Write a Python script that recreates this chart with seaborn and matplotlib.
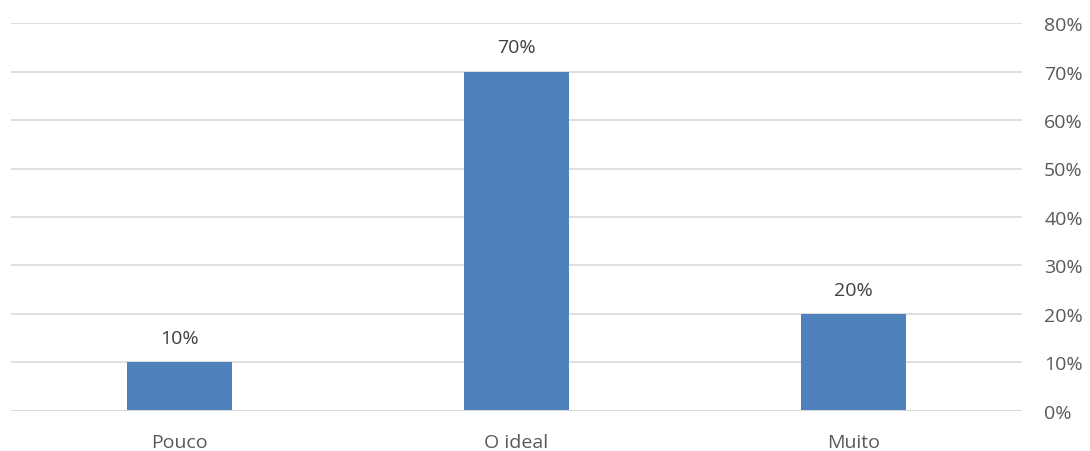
import matplotlib
matplotlib.use('Agg')
import pandas as pd
import matplotlib.pyplot as plt
import seaborn as sns

categories = ['Pouco', 'O ideal', 'Muito']
values = [10, 70, 20]
yticks = [0, 10, 20, 30, 40, 50, 60, 70, 80]

df = pd.DataFrame({'cat': categories, 'val': values})

sns.set_style('white')
plt.rcParams['font.family'] = ['Open Sans', 'DejaVu Sans']

fig = plt.figure(figsize=(10.9, 4.52), dpi=100)
ax = fig.add_axes([0.0101, 0.0885, 0.9275, 0.8584])

sns.barplot(data=df, x='cat', y='val', color='#4F81BD', saturation=1,
            width=0.31, linewidth=0, ax=ax, zorder=3)

ax.set_ylim(0, 80)
ax.set_xlim(-0.5, 2.5)
ax.set_yticks(yticks)
ax.set_yticklabels([f'{t}%' for t in yticks])
ax.yaxis.tick_right()
ax.grid(axis='y', color='#D9D9D9', linewidth=1.2, zorder=0)
ax.grid(axis='x', visible=False)
for s in ax.spines.values():
    s.set_visible(False)
ax.axhline(0, color='#D9D9D9', linewidth=1.4, zorder=4)
ax.tick_params(axis='y', length=0, pad=16, labelsize=14, labelcolor='#595959')
ax.tick_params(axis='x', length=0, pad=16, labelsize=14, labelcolor='#595959')
ax.set_xlabel('')
ax.set_ylabel('')

for i, v in enumerate(values):
    ax.annotate(f'{v}%', (i, v), xytext=(0, 11), textcoords='offset points',
                ha='center', va='bottom', fontsize=14, color='#404040')

fig.savefig('out.png', dpi=100)
